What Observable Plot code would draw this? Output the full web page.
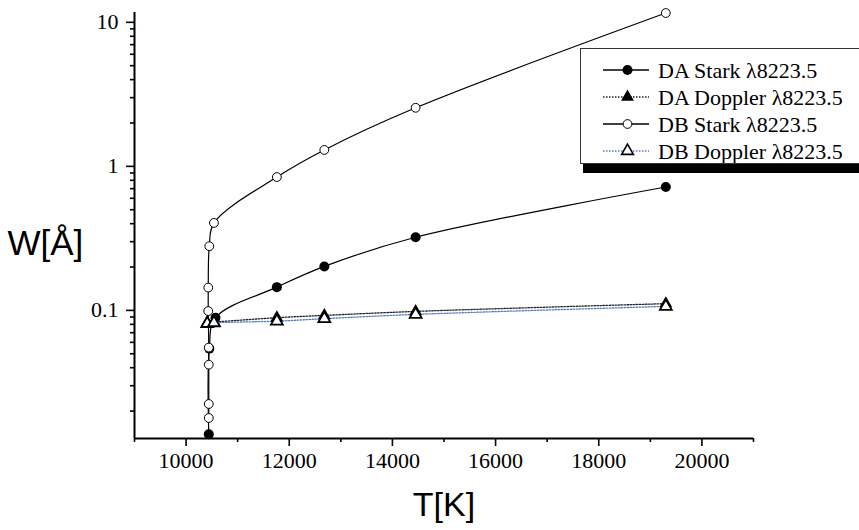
<!DOCTYPE html>
<html><head><meta charset="utf-8">
<script src="https://cdn.jsdelivr.net/npm/d3@7"></script>
<script src="https://cdn.jsdelivr.net/npm/@observablehq/plot@0.6"></script>
<style>
body{margin:0;background:#fff;}
#wrap{position:relative;width:859px;height:530px;overflow:hidden;background:#fff;}
#legend{position:absolute;left:580px;top:48px;width:300px;height:114px;background:#fff;border:1px solid #333;box-shadow:3px 9px 0 #000;}
</style></head><body><div id="wrap"></div>
<script>
// ---- data ----
const T_DA_Stark = [10440, 10450, 10570, 11760, 12680, 14450, 19300];
const W_DA_Stark = [0.0138, 0.0543, 0.0889, 0.145, 0.202, 0.322, 0.719];

const T_DA_Doppler = [10410, 10540, 11760, 12680, 14450, 19300];
const W_DA_Doppler = [0.0825, 0.083, 0.089, 0.0923, 0.0984, 0.1114];

const T_DB_Stark = [10440, 10440, 10440, 10440, 10430, 10430, 10450, 10540, 11760, 12680, 14450, 19300];
const W_DB_Stark = [0.0179, 0.0224, 0.042, 0.0552, 0.0989, 0.144, 0.279, 0.405, 0.843, 1.30, 2.55, 11.6];

const T_DB_Doppler = [10410, 10540, 11760, 12680, 14450, 19300];
const W_DB_Doppler = [0.081, 0.082, 0.0842, 0.0876, 0.0938, 0.1066];

const seriesNames = ["DA Stark λ8223.5", "DA Doppler λ8223.5", "DB Stark λ8223.5", "DB Doppler λ8223.5"];

const xMajorTicks = [10000, 12000, 14000, 16000, 18000, 20000];
const xMinorTicks = [9000, 11000, 13000, 15000, 17000, 19000, 21000];
const yMajorTicks = [0.1, 1, 10];
const yMajorLabels = ["0.1", "1", "10"];
const yMinorTicks = [0.02, 0.03, 0.04, 0.05, 0.06, 0.07, 0.08, 0.09,
                     0.2, 0.3, 0.4, 0.5, 0.6, 0.7, 0.8, 0.9,
                     2, 3, 4, 5, 6, 7, 8, 9];
const xDomain = [9000, 21000];
const yDomain = [0.0129, 11.7];

const toRows = (T, W) => T.map((t, i) => ({T: t, W: W[i]}));
const daStark = toRows(T_DA_Stark, W_DA_Stark);
const daDoppler = toRows(T_DA_Doppler, W_DA_Doppler);
const dbStark = toRows(T_DB_Stark, W_DB_Stark);
const dbDoppler = toRows(T_DB_Doppler, W_DB_Doppler);

const blue = "#4f7fc6";
const serif = "'Liberation Serif', 'Times New Roman', serif";
const sans = "'Liberation Sans', Arial, sans-serif";

const chart = Plot.plot({
  width: 859,
  height: 530,
  marginLeft: 134,
  marginRight: 106,
  marginTop: 12,
  marginBottom: 92,
  style: {fontFamily: serif, fontSize: "22px", color: "black", background: "white", overflow: "visible"},
  x: {domain: xDomain, label: null},
  y: {type: "log", domain: yDomain, label: null},
  marks: [
    Plot.axisX({ticks: xMajorTicks, tickSize: 8, tickPadding: 6, strokeWidth: 1.6, tickFormat: d => String(d), label: null, fontSize: 22, fontFamily: serif}),
    Plot.axisX({ticks: xMinorTicks, tickSize: 4, strokeWidth: 1.6, tickFormat: () => "", label: null}),
    Plot.axisY({ticks: yMajorTicks, tickSize: 8, tickPadding: 8, strokeWidth: 1.6, tickFormat: d => yMajorLabels[yMajorTicks.indexOf(d)], label: null, fontSize: 22, fontFamily: serif}),
    Plot.axisY({ticks: yMinorTicks, tickSize: 4, strokeWidth: 1.6, tickFormat: () => "", label: null}),
    Plot.ruleX([xDomain[0]], {strokeWidth: 2}),
    Plot.ruleY([yDomain[0]], {strokeWidth: 2}),
    Plot.line(daStark, {x: "T", y: "W", curve: "catmull-rom", stroke: "black", strokeWidth: 1.2}),
    Plot.line(dbStark, {x: "T", y: "W", curve: "catmull-rom", stroke: "black", strokeWidth: 1.2}),
    Plot.line(daDoppler, {x: "T", y: "W", curve: "catmull-rom", stroke: "#222", strokeWidth: 1.3, strokeDasharray: "1.5,1.5"}),
    Plot.line(dbDoppler, {x: "T", y: "W", curve: "catmull-rom", stroke: blue, strokeWidth: 1.3, strokeDasharray: "1.5,1.5"}),
    Plot.dot(daStark, {x: "T", y: "W", r: 5, fill: "black"}),
    Plot.dot(daDoppler, {x: "T", y: "W", symbol: "triangle", r: 4.8, fill: "black"}),
    Plot.dot(dbStark, {x: "T", y: "W", r: 4.4, fill: "white", stroke: "black", strokeWidth: 1}),
    Plot.dot(dbDoppler, {x: "T", y: "W", symbol: "triangle", r: 4.4, fill: "white", stroke: "black", strokeWidth: 1.8}),
    Plot.text(["T[K]"], {text: d => d, frameAnchor: "bottom", dy: 77, fontFamily: sans, fontSize: 34}),
    Plot.text(["W[Å]"], {text: d => d, frameAnchor: "left", dx: -127, dy: 18, textAnchor: "start", fontFamily: sans, fontSize: 35})
  ]
});
const wrap = document.getElementById("wrap");
wrap.appendChild(chart);

// ---- legend ----
const legend = document.createElement("div");
legend.id = "legend";
wrap.appendChild(legend);
const lsvg = d3.select(legend).append("svg").attr("width", 300).attr("height", 114);
const styles = [
  {stroke: "black", dash: null, symbol: d3.symbolCircle, size: 78, fill: "black", mstroke: "none", sw: 0},
  {stroke: "#222", dash: "1.5,1.5", symbol: d3.symbolTriangle, size: 72, fill: "black", mstroke: "none", sw: 0},
  {stroke: "black", dash: null, symbol: d3.symbolCircle, size: 60, fill: "white", mstroke: "black", sw: 1},
  {stroke: blue, dash: "1.5,1.5", symbol: d3.symbolTriangle, size: 60, fill: "white", mstroke: "black", sw: 1.6}
];
seriesNames.forEach((name, i) => {
  const y = 21 + i * 27;
  const s = styles[i];
  const g = lsvg.append("g");
  g.append("line").attr("x1", 22).attr("x2", 68).attr("y1", y).attr("y2", y)
    .attr("stroke", s.stroke).attr("stroke-width", 1.3).attr("stroke-dasharray", s.dash);
  g.append("path").attr("d", d3.symbol(s.symbol, s.size)()).attr("transform", `translate(46.5,${y})`)
    .attr("fill", s.fill).attr("stroke", s.mstroke).attr("stroke-width", s.sw);
  g.append("text").attr("x", 77).attr("y", y).attr("dy", "0.35em")
    .style("font-family", serif).attr("font-size", 22).text(name);
});
</script>
</body></html>
